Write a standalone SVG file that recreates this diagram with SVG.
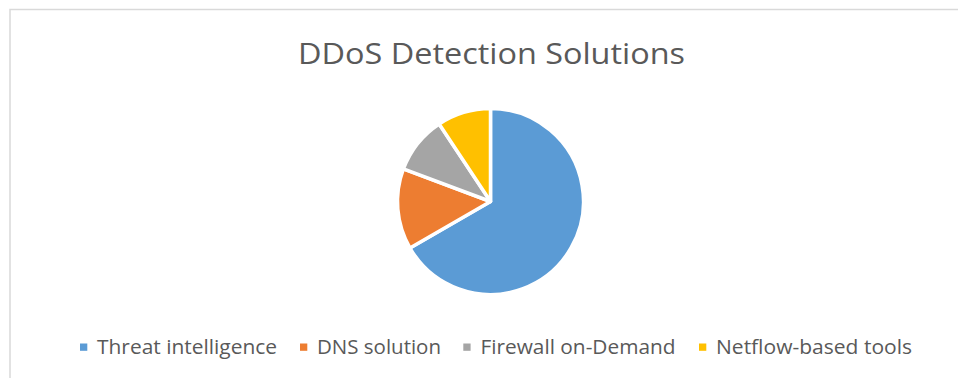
<svg xmlns="http://www.w3.org/2000/svg" width="958" height="378" viewBox="0 0 958 378">
<style>
.frame{fill:#fff;stroke:#d9d9d9;stroke-width:1.5}
.title{font-family:"Open Sans","Liberation Sans",sans-serif;font-size:29.5px;fill:#595959}
.leg{font-family:"Open Sans","Liberation Sans",sans-serif;font-size:20px;fill:#595959}
.slice{stroke:#fff;stroke-width:3.5;stroke-linejoin:round}
</style>
<rect x="0" y="0" width="958" height="378" fill="#fff"/>
<rect class="frame" x="10" y="9.5" width="960" height="380"/>
<text id="title" class="title" x="298" y="64" textLength="387" lengthAdjust="spacingAndGlyphs">DDoS Detection Solutions</text>
<g id="pie">
<path id="slice-threat" class="slice" fill="#5b9bd5" d="M490.5,201.5 L490.5,108.5 A93,93 0 1 1 409.96,248 Z"/>
<path id="slice-dns" class="slice" fill="#ed7d31" d="M490.5,201.5 L409.96,248 A93,93 0 0 1 403.39,168.93 Z"/>
<path id="slice-firewall" class="slice" fill="#a5a5a5" d="M490.5,201.5 L403.39,168.93 A93,93 0 0 1 439.17,123.95 Z"/>
<path id="slice-netflow" class="slice" fill="#ffc000" d="M490.5,201.5 L439.17,123.95 A93,93 0 0 1 490.5,108.5 Z"/>
</g>
<g id="legend">
<g id="leg-threat"><rect x="80" y="343.5" width="7.3" height="7.3" fill="#5b9bd5"/><text class="leg" x="97" y="354" textLength="180" lengthAdjust="spacingAndGlyphs">Threat intelligence</text></g>
<g id="leg-dns"><rect x="300" y="343.5" width="7.3" height="7.3" fill="#ed7d31"/><text class="leg" x="317" y="354" textLength="124" lengthAdjust="spacingAndGlyphs">DNS solution</text></g>
<g id="leg-firewall"><rect x="463.3" y="343.5" width="7.3" height="7.3" fill="#a5a5a5"/><text class="leg" x="480.5" y="354" textLength="195" lengthAdjust="spacingAndGlyphs">Firewall on-Demand</text></g>
<g id="leg-netflow"><rect x="699" y="343.5" width="7.3" height="7.3" fill="#ffc000"/><text class="leg" x="716" y="354" textLength="196" lengthAdjust="spacingAndGlyphs">Netflow-based tools</text></g>
</g>
</svg>
